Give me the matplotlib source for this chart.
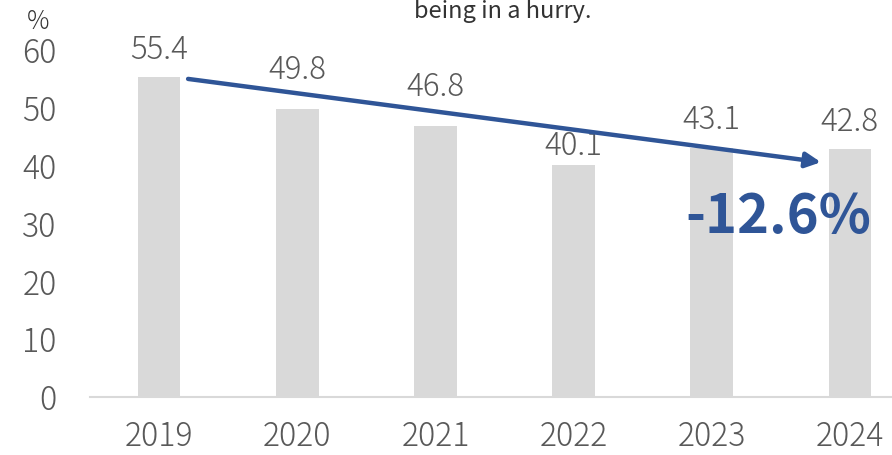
import matplotlib
matplotlib.use("Agg")
import matplotlib.pyplot as plt

plt.rcParams['font.family'] = ['Noto Sans CJK JP', 'DejaVu Sans']

# Data
years = ["2019", "2020", "2021", "2022", "2023", "2024"]
values = [55.4, 49.8, 46.8, 40.1, 43.1, 42.8]
change_label = "-12.6%"

# label gap above each bar (points)
label_offsets = [19, 28, 28, 14, 20, 20]

BAR_COLOR = "#d9d9d9"
TEXT_COLOR = "#595959"
BLUE = "#2f5597"

fig = plt.figure(figsize=(8.92, 4.55), dpi=100)
ax = fig.add_axes([90 / 892, 58 / 455, 829 / 892, 347 / 455])

x = range(len(years))
ax.bar(x, values, width=0.31, color=BAR_COLOR, zorder=2)

for i, v in enumerate(values):
    ax.annotate(f"{v:.1f}", (i, v), xytext=(0, label_offsets[i]),
                textcoords="offset points", ha="center", va="center",
                fontsize=22.5, fontweight="light", color=TEXT_COLOR, zorder=4)

ax.set_xlim(-0.5, len(years) - 0.5)
ax.set_ylim(0, 60)
ax.set_yticks(range(0, 61, 10))
ax.set_xticks(list(x))
ax.set_xticklabels(years)
ax.tick_params(axis="both", length=0, labelsize=23, colors=TEXT_COLOR)
ax.tick_params(axis="y", pad=24)
ax.tick_params(axis="x", pad=16)
for lbl in ax.get_xticklabels() + ax.get_yticklabels():
    lbl.set_fontweight("light")

for side in ["top", "right", "left"]:
    ax.spines[side].set_visible(False)
ax.spines["bottom"].set_color("#d9d9d9")
ax.spines["bottom"].set_linewidth(1.5)

# trend arrow
ax.annotate("", xy=(4.79, 40.6), xytext=(0.21, 55.0),
            arrowprops=dict(arrowstyle="-|>,head_length=0.9,head_width=0.45",
                            color=BLUE, lw=3.2, shrinkA=0, shrinkB=0),
            zorder=5)

ax.text(4.48, 31.0, change_label, ha="center", va="center",
        fontsize=39, fontweight="bold", color=BLUE, zorder=6)

fig.text(38 / 892, 1 - 22 / 455, "%", ha="center", va="center",
         fontsize=18, fontweight="light", color="#333333")
fig.text(503 / 892, 0.999, "being in a hurry.", ha="center",
         va="top", fontsize=17, color="#333333")

fig.savefig("out.png", dpi=100)
